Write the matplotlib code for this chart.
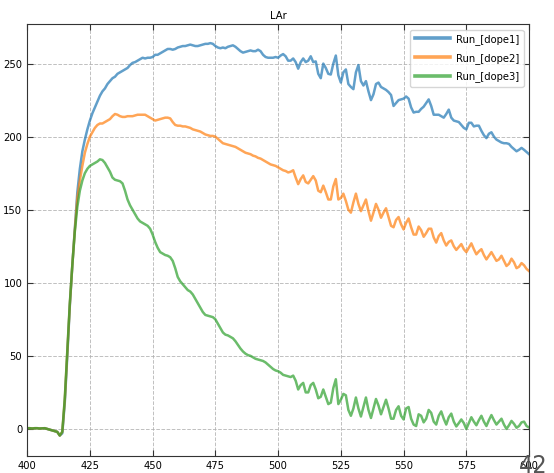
import numpy as np
from matplotlib import pyplot as plt

# wavelength grid, 1 nm steps
wavelength = np.arange(400, 601)

dope1 = [
    0.5, 0.5, 0.3, 0.5, 0.5, 0.3, 0.4, 0.5, 0.0, -0.5,
    -1.0, -1.5, -2.0, -4.5, -3.0, 18, 50, 84, 112, 137,
    162, 178, 190, 198, 205, 211, 216, 220, 224, 228,
    231, 233, 236, 238, 240, 241, 243, 244, 245, 246,
    247, 249, 250.5, 251, 252, 253, 254, 253.5, 254, 254,
    254.5, 256, 256, 257, 258, 259, 260, 260, 259.5, 260,
    261, 261.5, 262, 262, 262.5, 263, 262.5, 262, 262, 262.5,
    263, 263.5, 263.5, 264, 263.5, 262, 261, 260.5, 261, 260.5,
    261.5, 262, 262.5, 261.5, 260, 258.5, 257.5, 258, 258.5, 259,
    258.5, 258.5, 259.5, 258.5, 256, 254.5, 254, 254, 254, 254.5,
    254, 255.5, 256.5, 255, 252, 252, 253.5, 251, 246.5, 251,
    253.5, 251, 252, 255, 251, 251.5, 243, 240, 250, 247,
    243, 242.5, 250, 255.5, 242, 237, 244, 246, 236, 234,
    232.5, 244, 249, 238, 235, 238, 231, 225, 229, 236,
    237, 234, 233, 232, 230.5, 228.5, 221, 223, 225, 225.5,
    226, 227.5, 226, 220, 216.5, 217, 217, 219, 220.5, 223,
    225.5, 221, 215, 215, 215, 214, 213, 215.5, 218.5, 213,
    211, 210.5, 210, 208, 206, 205, 209.5, 209.5, 207, 207.5,
    207.5, 204, 201, 199, 202, 203, 200, 198, 197, 196,
    195.5, 195.5, 195, 193, 191.5, 190, 191, 192.3, 191, 189.5,
    188,
]

dope2 = [
    0.5, 0.5, 0.3, 0.5, 0.5, 0.3, 0.4, 0.5, 0.0, -0.5,
    -1.0, -1.5, -2.0, -4.5, -2.0, 20, 52, 85, 112, 136,
    158, 170, 180, 189, 195, 200, 203, 206, 208, 209,
    209, 210, 211, 212, 214, 215.5, 215, 214, 213.5, 213.5,
    214, 214, 214, 214.5, 215, 215, 215, 215, 214, 213,
    212, 211, 211.5, 212, 212.5, 213, 213, 212.5, 210, 208,
    207.5, 207.5, 207, 207, 206.5, 206, 205, 204.5, 204, 203.5,
    202.5, 201.5, 201, 200.5, 200.5, 200, 198.5, 197, 195.5, 195,
    194.5, 194, 193.5, 193, 192, 191, 190, 189, 188.5, 188,
    187, 186.5, 185.5, 185, 184, 183, 182, 181, 180.5, 180,
    179, 178, 177, 176.5, 175.5, 176, 177, 172, 167.5, 171,
    173.5, 169, 168, 170.5, 173, 170, 163, 162, 166.5, 162,
    157, 157, 166, 171, 157, 158, 161, 156, 150, 148,
    155, 161, 154, 149, 153, 157, 149, 142.5, 148, 154,
    150, 144.5, 148, 151, 145, 139, 138, 143, 145, 140,
    136.5, 141, 144, 138, 133, 133, 138.5, 136, 131.5, 134,
    137, 137, 131, 127.5, 132, 134, 129, 125.5, 128, 129,
    125, 122.5, 124.5, 126.5, 123, 121, 124, 127, 123, 119.5,
    121.5, 123, 119, 116, 118.5, 121, 118, 115, 116, 118.5,
    115, 111.5, 113, 116.5, 114, 110, 111, 113.5, 112, 109.5,
    108,
]

dope3 = [
    0.5, 0.5, 0.3, 0.5, 0.5, 0.3, 0.4, 0.5, 0.0, -0.5,
    -1.0, -1.5, -2.0, -4.5, -2.0, 21, 53, 86, 112, 135,
    152, 163, 170, 175, 178, 180, 181, 182, 183, 184.5,
    184, 182, 179, 176, 172, 170.5, 170, 169.5, 168, 163,
    157, 153, 150, 147, 144, 142, 141, 140, 139, 137,
    133, 128, 124, 121, 120, 119, 118.5, 117.5, 115, 110,
    104, 101, 99, 97, 95, 94, 92, 89, 86, 83,
    80, 78, 77.5, 77, 76.5, 75, 72, 69, 66, 64.5,
    64, 63, 62, 60, 57.5, 55, 53, 51.5, 50.5, 50,
    49, 48, 47.5, 47, 46.5, 45.5, 44, 42.5, 41, 40,
    39.5, 38.5, 37, 36.5, 36, 35.5, 36.5, 33, 27, 30,
    31.5, 25, 25, 30, 31.5, 27, 21, 22, 27, 22,
    17, 18, 28, 34, 17, 20, 24, 23, 13, 9,
    14, 21.5, 14, 8.5, 15, 21.5, 13, 7.5, 14, 20.5,
    16, 10, 15, 20, 14, 7, 7, 13, 15.5, 9,
    6.5, 14, 15, 7, 3, 2, 10, 9, 4.5, 7,
    13, 11, 5, 3, 9, 12, 7, 3, 8, 10.5,
    5, 1.7, 4, 6.5, 4, 0, 4, 8, 5, 2.5,
    6, 9, 5, 2, 6, 9.5, 6, 3, 5, 7,
    3, 0, 2.5, 5.5, 3.5, 0.8, 2, 4.5, 5, 2,
    1,
]

labels = ['Run_[dope1]', 'Run_[dope2]', 'Run_[dope3]']
colors = ['#1f77b4', '#ff7f0e', '#2ca02c']

plt.rcParams['font.stretch'] = 'condensed'

fig = plt.figure(figsize=(5.54, 4.73), dpi=100)
ax = fig.add_axes([0.049, 0.036, 0.906, 0.913])

for series, lab, col in zip([dope1, dope2, dope3], labels, colors):
    ax.plot(wavelength, series, color=col, lw=1.8, alpha=0.7, label=lab)

ax.set_xlim(400, 600)
ax.set_ylim(-18.5, 277)
ax.set_xticks([400, 425, 450, 475, 500, 525, 550, 575, 600])
ax.set_yticks([0, 50, 100, 150, 200, 250])
ax.tick_params(direction='in', top=True, right=True, labelsize=8, length=4,
               color='#333333')
ax.grid(True, ls='--', color='#b0b0b0', lw=0.7, alpha=0.8)
for s in ax.spines.values():
    s.set_color('#333333')
ax.set_title('LAr', fontsize=8, pad=4)

leg = ax.legend(loc='upper right', fontsize=8, handlelength=3.2,
                handletextpad=0.5, frameon=True, fancybox=True,
                labelspacing=0.7)
for line in leg.get_lines():
    line.set_linewidth(2.6)

fig.text(0.937, 0.04, '42', fontsize=18, color='#555555', va='top')

fig.savefig('out.png', dpi=100)
